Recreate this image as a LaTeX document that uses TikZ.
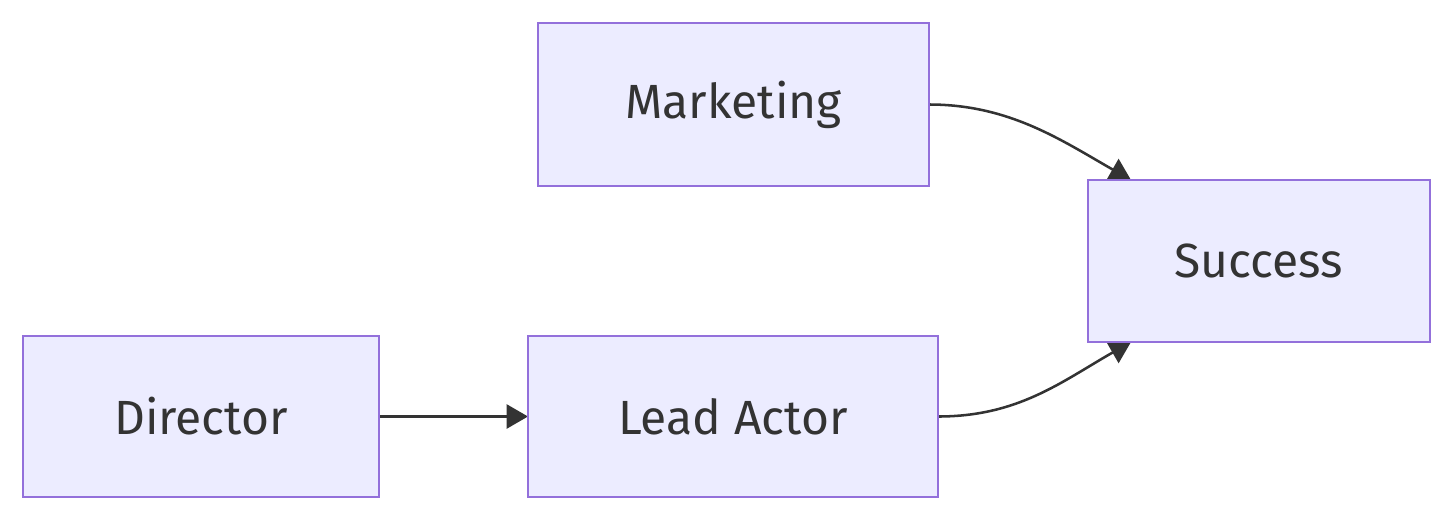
\documentclass[tikz,border=0pt]{standalone}
\usepackage{fontspec}
\setmainfont{Fira Sans}
\usetikzlibrary{arrows.meta,backgrounds,calc}
\definecolor{boxfill}{HTML}{ECECFF}
\definecolor{boxline}{HTML}{9370DB}
\definecolor{txt}{HTML}{333333}
\begin{document}
\begin{tikzpicture}[x=0.75pt,y=-0.75pt,
  box/.style={draw=boxline,fill=boxfill,line width=1.9pt,inner sep=0pt,outer sep=0pt,
    text=txt,font=\fontsize{36}{43}\selectfont},
  conn/.style={draw=txt,line width=1.9pt,-{Triangle[length=16pt,width=18pt]}}]
\useasboundingbox (0,0) rectangle (1454,522);
\node[box,minimum width=293.25pt,minimum height=122.25pt] (mk) at (733.5,104.5) {Marketing};
\node[box,minimum width=256.5pt,minimum height=121.5pt] (sc) at (1259,261) {Success};
\node[box,minimum width=267pt,minimum height=120.75pt] (dr) at (201,416.5) {Director};
\node[box,minimum width=307.5pt,minimum height=120.75pt] (la) at (733,416.5) {Lead Actor};
\coordinate (sctop) at ($(sc.north west)+(43,0)$);
\coordinate (scbot) at ($(sc.south west)+(43,0)$);
\begin{pgfonlayer}{background}
\draw[conn] (dr.east) -- (la.west);
\draw[conn] (mk.east) .. controls ($(mk.east)+(80,0)$) and ($(sctop)+(-70,-40)$) .. (sctop);
\draw[conn] (la.east) .. controls ($(la.east)+(80,0)$) and ($(scbot)+(-70,40)$) .. (scbot);
\end{pgfonlayer}
\end{tikzpicture}
\end{document}
